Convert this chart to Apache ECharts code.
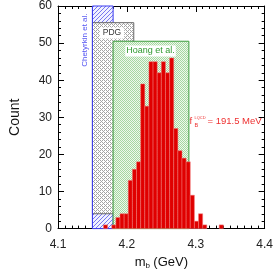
<!DOCTYPE html>
<html>
<head>
<meta charset="utf-8">
<script src="https://cdn.jsdelivr.net/npm/echarts@6/dist/echarts.min.js"></script>
<style>
html,body{margin:0;padding:0;background:#fff;}
#c{width:276px;height:275px;}
</style>
</head>
<body>
<div id="c"></div>
<script>
// ---- data ----
const binWidth = 0.006;
const binLeft = [4.166,4.172,4.178,4.184,4.190,4.196,4.202,4.208,4.214,4.220,4.226,4.232,4.238,4.244,4.250,4.256,4.262,4.268,4.274,4.280,4.286,4.292,4.298,4.304,4.310,4.316,4.322,4.328,4.334];
const counts  = [1,0,1,3,4,4,13,16,18,39,33,45,45,42,45,42,46,27,21,19,18,9,2,4,1,0,0,0,1];
// bands: [xmin, xmax, ymin, ymax]
const chetyrkin = [4.15, 4.18, 0, 60];
const pdg = [4.15, 4.21, 4, 55.5];
const hoang = [4.18, 4.29, 0, 50.5];
const xTicks = [4.1, 4.2, 4.3, 4.4];
const yTicks = [0, 10, 20, 30, 40, 50, 60];

function tile(w, h, bg, fg, pts) {
  const c = document.createElement('canvas');
  c.width = w; c.height = h;
  const g = c.getContext('2d');
  g.fillStyle = bg; g.fillRect(0, 0, w, h);
  g.fillStyle = fg;
  pts.forEach(p => g.fillRect(p[0], p[1], 1, 1));
  return c;
}
const blueHatch = tile(4, 4, '#f0f1ff', '#7777f0', [[3,0],[2,1],[1,2],[0,3]]);
const grayDots = tile(4, 4, '#ffffff', '#a4a4a4', [[0,0],[2,0],[1,1],[0,2],[2,2],[3,3]]);
const greenCheck = tile(2, 2, '#eef8ec', '#a6d7a1', [[0,0],[1,1]]);

function boxSeries(name, box, patternCanvas, stroke, z) {
  return {
    type: 'custom', name: name, z: z, silent: true,
    data: [box],
    renderItem: function (params, api) {
      const p0 = api.coord([api.value(0), api.value(2)]);
      const p1 = api.coord([api.value(1), api.value(3)]);
      return {
        type: 'rect',
        shape: { x: p0[0], y: p1[1], width: p1[0] - p0[0], height: p0[1] - p1[1] },
        style: { fill: { image: patternCanvas, repeat: 'repeat' }, stroke: stroke, lineWidth: 1 }
      };
    }
  };
}

const histData = binLeft.map((x, i) => [x, x + binWidth, counts[i]]);

const FONT = '"Liberation Sans", Arial, Helvetica, sans-serif';

const labelSeries = {
  type: 'custom', z: 10, silent: true,
  data: [[0]],
  renderItem: function (params, api) {
    const c1 = api.coord([4.1385, 50.8]);
    const c2 = api.coord([4.1784, 52.7]);
    const c3 = api.coord([4.2343, 47.9]);
    const c4 = api.coord([4.2952, 28.8]);
    return {
      type: 'group',
      children: [
        { type: 'text', x: c1[0], y: c1[1], rotation: Math.PI / 2,
          style: { text: 'Chetyrkin et al.', fill: '#5252f2', font: '8px ' + FONT, align: 'center', verticalAlign: 'middle' } },
        { type: 'text', x: c2[0], y: c2[1],
          style: { text: 'PDG', fill: '#333', font: '8.5px ' + FONT, align: 'center', verticalAlign: 'middle',
                   backgroundColor: '#fff', padding: [1, 3, 1, 3] } },
        { type: 'text', x: c3[0], y: c3[1],
          style: { text: 'Hoang et al.', fill: '#2f9a2f', font: '9px ' + FONT, align: 'center', verticalAlign: 'middle',
                   backgroundColor: '#fff', padding: [1, 1, 1, 1] } },
        { type: 'group', x: c4[0], y: c4[1], children: [
          { type: 'text', x: -3, y: 0, style: { text: 'f', fill: '#ee3030', font: '9.5px ' + FONT, align: 'left', verticalAlign: 'middle' } },
          { type: 'text', x: 2, y: 4, style: { text: 'B', fill: '#ee3030', font: '5.5px ' + FONT, align: 'left', verticalAlign: 'middle' } },
          { type: 'text', x: 2, y: -4, style: { text: 'LQCD', fill: '#ee3030', font: '4px ' + FONT, align: 'left', verticalAlign: 'middle' } },
          { type: 'text', x: 15, y: 0, style: { text: '= 191.5 MeV', fill: '#ee3030', font: '9.5px ' + FONT, align: 'left', verticalAlign: 'middle' } }
        ]}
      ]
    };
  }
};

const tickCommon = {
  axisLine: { onZero: false, lineStyle: { color: '#000', width: 1 } },
  axisTick: { inside: true, length: 6, lineStyle: { color: '#000', width: 1 } },
  minorTick: { show: true, length: 3, lineStyle: { color: '#000', width: 1 } },
  splitLine: { show: false }
};

const chart = echarts.init(document.getElementById('c'), null, { renderer: 'canvas' });
chart.setOption({
  animation: false,
  backgroundColor: '#fff',
  grid: { left: 49, right: 9, top: 6, bottom: 46 },
  xAxis: [
    Object.assign({
      type: 'value', min: xTicks[0], max: xTicks[xTicks.length - 1], interval: 0.1,
      name: '{m|m}{s|b} {m|(GeV)}', nameLocation: 'middle', nameGap: 25,
      nameTextStyle: { rich: {
        m: { fontSize: 13, fontFamily: FONT, color: '#111' },
        s: { fontSize: 8, fontFamily: FONT, color: '#111', padding: [8, 0, 0, 0] }
      } },
      axisLabel: { margin: 10, fontSize: 12, fontFamily: FONT, color: '#222',
                   formatter: v => v.toFixed(1) }
    }, tickCommon, { minorTick: Object.assign({}, tickCommon.minorTick, { splitNumber: 10 }) }),
    Object.assign({
      type: 'value', position: 'top', min: xTicks[0], max: xTicks[xTicks.length - 1], interval: 0.1,
      axisLabel: { show: false }
    }, tickCommon, { minorTick: Object.assign({}, tickCommon.minorTick, { splitNumber: 10 }) })
  ],
  yAxis: [
    Object.assign({
      type: 'value', min: yTicks[0], max: yTicks[yTicks.length - 1], interval: 10,
      name: 'Count', nameLocation: 'middle', nameGap: 36,
      nameTextStyle: { fontSize: 14, fontFamily: FONT, color: '#111' },
      axisLabel: { margin: 6, fontSize: 12, fontFamily: FONT, color: '#222' }
    }, tickCommon, { minorTick: Object.assign({}, tickCommon.minorTick, { splitNumber: 5 }) }),
    Object.assign({
      type: 'value', position: 'right', min: yTicks[0], max: yTicks[yTicks.length - 1], interval: 10,
      axisLabel: { show: false }
    }, tickCommon, { minorTick: Object.assign({}, tickCommon.minorTick, { splitNumber: 5 }) })
  ],
  series: [
    boxSeries('Chetyrkin', chetyrkin, blueHatch, '#3c3cf0', 1),
    boxSeries('PDG', pdg, grayDots, '#666666', 2),
    boxSeries('Hoang', hoang, greenCheck, '#3d9e3d', 3),
    {
      type: 'custom', name: 'edge', z: 4, silent: true,
      data: [[chetyrkin[0], chetyrkin[2], chetyrkin[3]]],
      renderItem: function (params, api) {
        const a = api.coord([api.value(0), api.value(1)]);
        const b = api.coord([api.value(0), api.value(2)]);
        return { type: 'line', shape: { x1: a[0], y1: a[1], x2: b[0], y2: b[1] },
                 style: { stroke: '#3c3cf0', lineWidth: 1 } };
      }
    },
    {
      type: 'custom', name: 'hist', z: 5, silent: true,
      data: histData,
      renderItem: function (params, api) {
        const y = api.value(2);
        if (!y) return null;
        const p0 = api.coord([api.value(0), 0]);
        const p1 = api.coord([api.value(1), y]);
        return {
          type: 'rect',
          shape: { x: p0[0], y: p1[1], width: p1[0] - p0[0], height: p0[1] - p1[1] },
          style: { fill: '#e00000', stroke: '#f27a7a', lineWidth: 0.5 }
        };
      }
    },
    labelSeries
  ]
});
</script>
</body>
</html>
